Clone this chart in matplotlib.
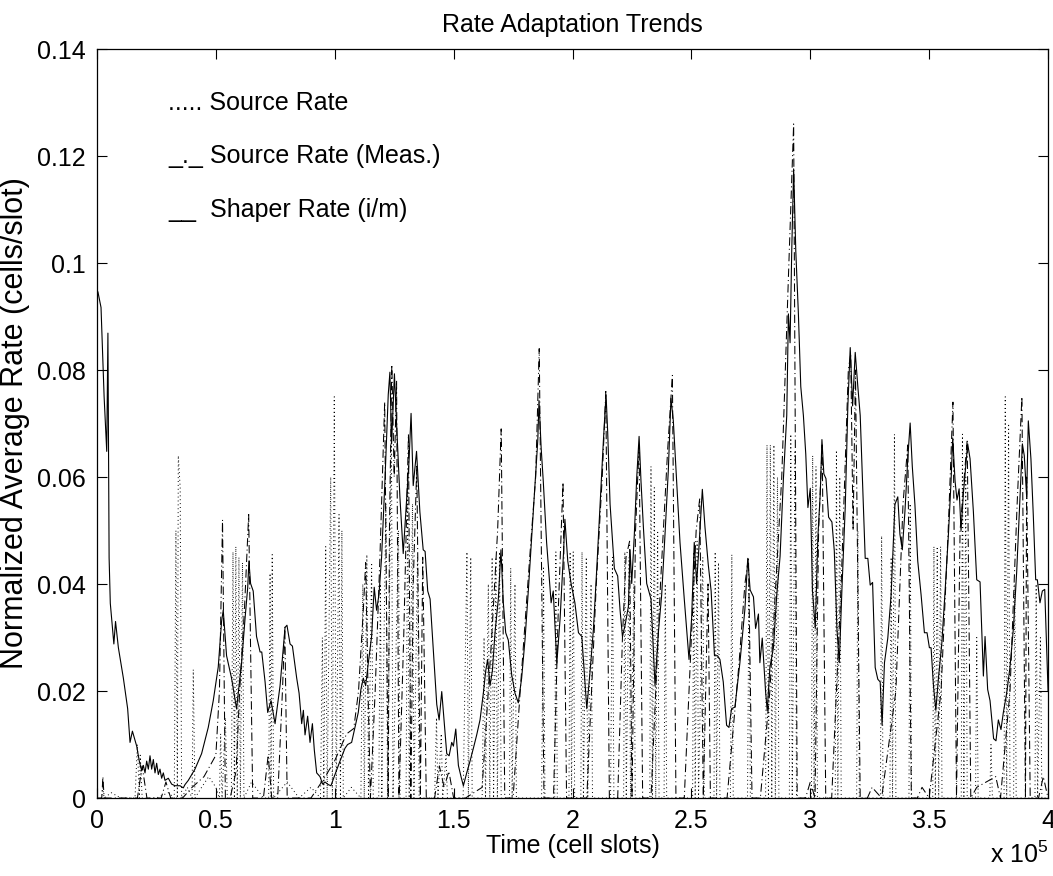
import matplotlib
matplotlib.use("Agg")
import matplotlib.pyplot as plt

plt.rcParams['font.family'] = ['Liberation Sans', 'DejaVu Sans']
plt.rcParams['mathtext.fontset'] = 'custom'
plt.rcParams['mathtext.rm'] = 'Liberation Sans'
plt.rcParams['mathtext.it'] = 'Liberation Sans'

# ---- data (time in units of 1e5 cell slots) ----
shaper_t = [0.004, 0.017, 0.030, 0.041, 0.046, 0.051, 0.056, 0.071, 0.078, 0.090,
            0.111, 0.129, 0.139, 0.149, 0.167, 0.178, 0.188, 0.195, 0.202, 0.209,
            0.216, 0.223, 0.230, 0.237, 0.244, 0.251, 0.258, 0.265, 0.272, 0.279,
            0.286, 0.300, 0.314, 0.328, 0.349, 0.363, 0.370, 0.384, 0.412, 0.440,
            0.468, 0.489, 0.510, 0.524, 0.531, 0.545, 0.566, 0.587, 0.608, 0.623,
            0.634, 0.639, 0.646, 0.657, 0.671, 0.686, 0.693, 0.707, 0.718, 0.732,
            0.749, 0.770, 0.791, 0.799, 0.812, 0.822, 0.840, 0.850, 0.861, 0.868,
            0.875, 0.886, 0.896, 0.906, 0.914, 0.924, 0.938, 0.949, 0.959, 0.973,
            0.984, 1.001, 1.022, 1.043, 1.054, 1.071, 1.085, 1.099, 1.110, 1.120,
            1.130, 1.141, 1.155, 1.166, 1.176, 1.186, 1.197, 1.211, 1.225, 1.232,
            1.239, 1.251, 1.261, 1.274, 1.288, 1.303, 1.312, 1.321, 1.330, 1.344,
            1.358, 1.372, 1.380, 1.391, 1.401, 1.415, 1.429, 1.439, 1.450, 1.461,
            1.471, 1.481, 1.492, 1.499, 1.509, 1.520, 1.531, 1.541, 1.555, 1.569,
            1.583, 1.597, 1.611, 1.625, 1.635, 1.643, 1.653, 1.663, 1.674, 1.688,
            1.699, 1.709, 1.719, 1.730, 1.744, 1.758, 1.772, 1.786, 1.800, 1.814,
            1.828, 1.842, 1.854, 1.859, 1.868, 1.877, 1.891, 1.910, 1.919, 1.934,
            1.948, 1.962, 1.968, 1.980, 1.994, 2.010, 2.025, 2.039, 2.060, 2.074,
            2.088, 2.102, 2.116, 2.130, 2.141, 2.148, 2.158, 2.176, 2.190, 2.200,
            2.210, 2.221, 2.235, 2.242, 2.249, 2.260, 2.270, 2.280, 2.288, 2.298,
            2.312, 2.330, 2.347, 2.361, 2.375, 2.389, 2.403, 2.414, 2.424, 2.438,
            2.452, 2.470, 2.490, 2.501, 2.512, 2.522, 2.532, 2.546, 2.557, 2.571,
            2.583, 2.597, 2.610, 2.620, 2.634, 2.648, 2.658, 2.669, 2.683, 2.704,
            2.725, 2.737, 2.747, 2.761, 2.770, 2.782, 2.788, 2.798, 2.812, 2.819,
            2.830, 2.845, 2.859, 2.873, 2.887, 2.901, 2.908, 2.915, 2.922, 2.930,
            2.939, 2.950, 2.960, 2.971, 2.981, 2.990, 3.000, 3.009, 3.021, 3.032,
            3.042, 3.049, 3.057, 3.066, 3.077, 3.091, 3.101, 3.112, 3.122, 3.133,
            3.147, 3.158, 3.168, 3.178, 3.189, 3.200, 3.210, 3.220, 3.231, 3.242,
            3.252, 3.262, 3.273, 3.284, 3.294, 3.302, 3.312, 3.326, 3.340, 3.356,
            3.368, 3.377, 3.387, 3.398, 3.410, 3.420, 3.429, 3.440, 3.452, 3.466,
            3.480, 3.491, 3.501, 3.508, 3.518, 3.528, 3.539, 3.553, 3.567, 3.581,
            3.592, 3.599, 3.609, 3.617, 3.626, 3.634, 3.644, 3.654, 3.662, 3.672,
            3.686, 3.700, 3.714, 3.728, 3.735, 3.746, 3.756, 3.771, 3.781, 3.791,
            3.802, 3.812, 3.826, 3.840, 3.854, 3.868, 3.882, 3.892, 3.900, 3.910,
            3.917, 3.928, 3.938, 3.948, 3.955, 3.966, 3.976, 3.986, 3.994, 4.000]
shaper_v = [0.0946, 0.0917, 0.0750, 0.0648, 0.0869, 0.0449, 0.0364, 0.0288, 0.0330, 0.0281,
            0.0224, 0.0167, 0.0104, 0.0125, 0.0097, 0.0069, 0.0051, 0.0061, 0.0047, 0.0069,
            0.0054, 0.0079, 0.0054, 0.0072, 0.0047, 0.0065, 0.0044, 0.0054, 0.0037, 0.0047,
            0.0033, 0.0037, 0.0026, 0.0023, 0.0023, 0.0019, 0.0025, 0.0033, 0.0054, 0.0083,
            0.0132, 0.0182, 0.0245, 0.0330, 0.0351, 0.0266, 0.0224, 0.0167, 0.0252, 0.0337,
            0.0394, 0.0443, 0.0401, 0.0387, 0.0302, 0.0273, 0.0273, 0.0217, 0.0160, 0.0182,
            0.0139, 0.0210, 0.0319, 0.0323, 0.0288, 0.0284, 0.0224, 0.0196, 0.0139, 0.0164,
            0.0118, 0.0153, 0.0104, 0.0139, 0.0090, 0.0047, 0.0040, 0.0026, 0.0030, 0.0025,
            0.0023, 0.0044, 0.0069, 0.0093, 0.0100, 0.0104, 0.0132, 0.0160, 0.0203, 0.0224,
            0.0210, 0.0252, 0.0302, 0.0394, 0.0351, 0.0380, 0.0450, 0.0592, 0.0754, 0.0796,
            0.0662, 0.0793, 0.0690, 0.0563, 0.0457, 0.0563, 0.0627, 0.0719, 0.0584, 0.0648,
            0.0535, 0.0464, 0.0461, 0.0387, 0.0372, 0.0273, 0.0175, 0.0146, 0.0199, 0.0139,
            0.0083, 0.0079, 0.0104, 0.0097, 0.0129, 0.0061, 0.0040, 0.0023, 0.0047, 0.0069,
            0.0093, 0.0118, 0.0146, 0.0196, 0.0238, 0.0259, 0.0210, 0.0238, 0.0309, 0.0372,
            0.0464, 0.0365, 0.0309, 0.0295, 0.0231, 0.0196, 0.0178, 0.0224, 0.0295, 0.0387,
            0.0486, 0.0584, 0.0669, 0.0743, 0.0655, 0.0592, 0.0478, 0.0365, 0.0387, 0.0252,
            0.0337, 0.0457, 0.0521, 0.0443, 0.0401, 0.0365, 0.0309, 0.0302, 0.0167, 0.0238,
            0.0316, 0.0429, 0.0549, 0.0669, 0.0754, 0.0683, 0.0549, 0.0429, 0.0415, 0.0351,
            0.0302, 0.0323, 0.0358, 0.0464, 0.0401, 0.0493, 0.0599, 0.0676, 0.0592, 0.0507,
            0.0401, 0.0372, 0.0210, 0.0309, 0.0380, 0.0493, 0.0613, 0.0747, 0.0705, 0.0592,
            0.0478, 0.0372, 0.0259, 0.0337, 0.0478, 0.0401, 0.0471, 0.0577, 0.0507, 0.0436,
            0.0387, 0.0266, 0.0266, 0.0259, 0.0217, 0.0136, 0.0132, 0.0167, 0.0170, 0.0253,
            0.0353, 0.0448, 0.0389, 0.0376, 0.0317, 0.0344, 0.0253, 0.0299, 0.0199, 0.0163,
            0.0244, 0.0281, 0.0380, 0.0452, 0.0597, 0.0715, 0.0905, 0.0851, 0.1023, 0.1176,
            0.1023, 0.0905, 0.0769, 0.0715, 0.0643, 0.0543, 0.0579, 0.0389, 0.0317, 0.0489,
            0.0570, 0.0670, 0.0606, 0.0597, 0.0525, 0.0516, 0.0462, 0.0317, 0.0253, 0.0389,
            0.0543, 0.0733, 0.0842, 0.0733, 0.0833, 0.0769, 0.0715, 0.0588, 0.0448, 0.0448,
            0.0398, 0.0403, 0.0244, 0.0222, 0.0217, 0.0136, 0.0253, 0.0299, 0.0380, 0.0549,
            0.0563, 0.0493, 0.0464, 0.0535, 0.0634, 0.0701, 0.0620, 0.0549, 0.0443, 0.0380,
            0.0309, 0.0309, 0.0281, 0.0281, 0.0210, 0.0164, 0.0224, 0.0288, 0.0387, 0.0493,
            0.0592, 0.0673, 0.0592, 0.0557, 0.0578, 0.0500, 0.0570, 0.0620, 0.0662, 0.0634,
            0.0535, 0.0408, 0.0404, 0.0228, 0.0302, 0.0203, 0.0182, 0.0111, 0.0107, 0.0146,
            0.0128, 0.0160, 0.0196, 0.0245, 0.0316, 0.0422, 0.0563, 0.0662, 0.0640, 0.0563,
            0.0705, 0.0634, 0.0528, 0.0408, 0.0408, 0.0365, 0.0387, 0.0390, 0.0280, 0.0200]

meas_t = [0.000, 0.020, 0.025, 0.030, 0.170, 0.190, 0.210, 0.270, 0.290, 0.310,
          0.360, 0.400, 0.450, 0.500, 0.515, 0.528, 0.540, 0.560, 0.585, 0.600,
          0.620, 0.638, 0.655, 0.700, 0.720, 0.735, 0.760, 0.780, 0.790, 0.800,
          0.900, 0.930, 0.960, 1.000, 1.050, 1.080, 1.100, 1.120, 1.130, 1.140,
          1.150, 1.170, 1.190, 1.210, 1.225, 1.230, 1.240, 1.250, 1.260, 1.270,
          1.290, 1.310, 1.320, 1.330, 1.345, 1.360, 1.370, 1.385, 1.420, 1.440,
          1.460, 1.480, 1.500, 1.550, 1.620, 1.660, 1.685, 1.700, 1.715, 1.750,
          1.780, 1.820, 1.845, 1.860, 1.880, 1.920, 1.940, 1.960, 1.975, 2.030,
          2.060, 2.100, 2.125, 2.140, 2.155, 2.190, 2.210, 2.225, 2.240, 2.250,
          2.265, 2.280, 2.295, 2.330, 2.370, 2.400, 2.420, 2.435, 2.470, 2.500,
          2.520, 2.535, 2.550, 2.570, 2.580, 2.650, 2.700, 2.725, 2.740, 2.755,
          2.790, 2.830, 2.880, 2.910, 2.930, 2.945, 2.980, 3.000, 3.020, 3.035,
          3.050, 3.065, 3.090, 3.130, 3.160, 3.170, 3.180, 3.190, 3.210, 3.240,
          3.260, 3.300, 3.360, 3.390, 3.410, 3.425, 3.450, 3.470, 3.500, 3.550,
          3.580, 3.600, 3.615, 3.630, 3.660, 3.675, 3.700, 3.740, 3.780, 3.800,
          3.840, 3.870, 3.890, 3.905, 3.910, 3.925, 3.960, 3.980, 4.000]
meas_v = [0.000, 0.000, 0.004, 0.000, 0.000, 0.006, 0.000, 0.000, 0.003, 0.000,
          0.000, 0.002, 0.004, 0.008, 0.020, 0.052, 0.000, 0.000, 0.005, 0.020,
          0.035, 0.053, 0.000, 0.000, 0.008, 0.000, 0.000, 0.020, 0.032, 0.000,
          0.000, 0.002, 0.004, 0.007, 0.012, 0.013, 0.020, 0.035, 0.044, 0.020,
          0.000, 0.020, 0.045, 0.074, 0.000, 0.050, 0.081, 0.060, 0.078, 0.000,
          0.030, 0.068, 0.000, 0.040, 0.062, 0.000, 0.045, 0.000, 0.000, 0.006,
          0.002, 0.005, 0.000, 0.000, 0.002, 0.030, 0.050, 0.069, 0.000, 0.000,
          0.020, 0.045, 0.060, 0.084, 0.000, 0.000, 0.035, 0.059, 0.000, 0.000,
          0.000, 0.040, 0.060, 0.076, 0.000, 0.000, 0.030, 0.045, 0.048, 0.000,
          0.050, 0.066, 0.000, 0.000, 0.040, 0.065, 0.079, 0.000, 0.000, 0.030,
          0.050, 0.056, 0.000, 0.040, 0.000, 0.000, 0.025, 0.040, 0.045, 0.000,
          0.000, 0.020, 0.060, 0.100, 0.126, 0.000, 0.000, 0.003, 0.000, 0.050,
          0.066, 0.000, 0.000, 0.040, 0.080, 0.083, 0.050, 0.080, 0.000, 0.000,
          0.002, 0.000, 0.020, 0.055, 0.066, 0.000, 0.000, 0.002, 0.000, 0.020,
          0.050, 0.074, 0.000, 0.050, 0.067, 0.000, 0.002, 0.003, 0.004, 0.000,
          0.020, 0.055, 0.075, 0.000, 0.060, 0.000, 0.000, 0.004, 0.000]

src_t = [0.000, 0.020, 0.024, 0.030, 0.060, 0.100, 0.160, 0.170, 0.178, 0.182,
         0.190, 0.250, 0.300, 0.325, 0.332, 0.338, 0.342, 0.350, 0.356, 0.380,
         0.400, 0.405, 0.412, 0.440, 0.470, 0.500, 0.515, 0.520, 0.526, 0.540,
         0.548, 0.565, 0.572, 0.578, 0.584, 0.590, 0.597, 0.603, 0.612, 0.618,
         0.650, 0.700, 0.722, 0.728, 0.732, 0.737, 0.743, 0.800, 0.850, 0.900,
         0.940, 0.948, 0.954, 0.962, 0.968, 0.983, 0.990, 0.998, 1.006, 1.018,
         1.024, 1.030, 1.036, 1.070, 1.110, 1.118, 1.124, 1.135, 1.142, 1.155,
         1.162, 1.185, 1.192, 1.198, 1.215, 1.222, 1.238, 1.245, 1.268, 1.275,
         1.300, 1.307, 1.313, 1.327, 1.333, 1.348, 1.355, 1.420, 1.428, 1.434,
         1.448, 1.454, 1.468, 1.474, 1.540, 1.556, 1.562, 1.572, 1.578, 1.620,
         1.628, 1.634, 1.646, 1.652, 1.662, 1.668, 1.678, 1.684, 1.693, 1.700,
         1.735, 1.740, 1.746, 1.758, 1.764, 1.870, 1.878, 1.884, 1.925, 1.930,
         1.936, 1.985, 1.990, 1.996, 2.003, 2.009, 2.035, 2.040, 2.046, 2.058,
         2.064, 2.078, 2.084, 2.160, 2.168, 2.174, 2.215, 2.220, 2.226, 2.238,
         2.244, 2.258, 2.264, 2.325, 2.330, 2.336, 2.344, 2.350, 2.358, 2.364,
         2.385, 2.390, 2.396, 2.505, 2.510, 2.516, 2.524, 2.530, 2.548, 2.554,
         2.595, 2.600, 2.606, 2.614, 2.620, 2.664, 2.670, 2.676, 2.736, 2.742,
         2.748, 2.812, 2.818, 2.824, 2.832, 2.838, 2.847, 2.853, 2.862, 2.868,
         2.912, 2.918, 2.924, 2.936, 2.942, 3.005, 3.010, 3.016, 3.024, 3.030,
         3.105, 3.110, 3.116, 3.124, 3.130, 3.195, 3.200, 3.206, 3.295, 3.300,
         3.306, 3.335, 3.340, 3.346, 3.354, 3.360, 3.415, 3.420, 3.426, 3.515,
         3.520, 3.526, 3.534, 3.540, 3.548, 3.554, 3.635, 3.640, 3.646, 3.654,
         3.660, 3.695, 3.700, 3.706, 3.755, 3.760, 3.766, 3.815, 3.820, 3.826,
         3.834, 3.840, 3.855, 3.860, 3.866, 3.945, 3.950, 3.956, 3.968, 3.974,
         4.000]
src_v = [0.000, 0.000, 0.002, 0.000, 0.001, 0.000, 0.000, 0.010, 0.000, 0.008,
         0.000, 0.000, 0.001, 0.000, 0.050, 0.000, 0.064, 0.058, 0.000, 0.002,
         0.000, 0.024, 0.000, 0.002, 0.004, 0.002, 0.000, 0.012, 0.000, 0.015,
         0.000, 0.000, 0.046, 0.000, 0.047, 0.000, 0.045, 0.000, 0.044, 0.000,
         0.003, 0.000, 0.000, 0.042, 0.000, 0.0455, 0.000, 0.003, 0.000, 0.002,
         0.000, 0.030, 0.000, 0.047, 0.000, 0.060, 0.000, 0.075, 0.000, 0.053,
         0.000, 0.050, 0.000, 0.002, 0.000, 0.040, 0.000, 0.0455, 0.000, 0.044,
         0.000, 0.000, 0.040, 0.000, 0.055, 0.000, 0.070, 0.000, 0.050, 0.000,
         0.000, 0.060, 0.000, 0.055, 0.000, 0.045, 0.000, 0.000, 0.015, 0.000,
         0.012, 0.000, 0.008, 0.000, 0.000, 0.046, 0.000, 0.045, 0.000, 0.000,
         0.030, 0.000, 0.040, 0.000, 0.045, 0.000, 0.045, 0.000, 0.046, 0.000,
         0.000, 0.043, 0.000, 0.040, 0.000, 0.000, 0.043, 0.000, 0.000, 0.046,
         0.000, 0.000, 0.046, 0.000, 0.046, 0.000, 0.000, 0.046, 0.000, 0.045,
         0.000, 0.040, 0.000, 0.000, 0.045, 0.000, 0.000, 0.046, 0.000, 0.045,
         0.000, 0.040, 0.000, 0.000, 0.062, 0.000, 0.058, 0.000, 0.050, 0.000,
         0.000, 0.040, 0.000, 0.000, 0.046, 0.000, 0.048, 0.000, 0.045, 0.000,
         0.000, 0.046, 0.000, 0.044, 0.000, 0.000, 0.0455, 0.000, 0.000, 0.040,
         0.000, 0.000, 0.066, 0.000, 0.066, 0.000, 0.066, 0.000, 0.060, 0.000,
         0.000, 0.068, 0.000, 0.065, 0.000, 0.000, 0.064, 0.000, 0.062, 0.000,
         0.000, 0.065, 0.000, 0.060, 0.000, 0.000, 0.050, 0.000, 0.000, 0.049,
         0.000, 0.000, 0.045, 0.000, 0.068, 0.000, 0.000, 0.055, 0.000, 0.000,
         0.047, 0.000, 0.047, 0.000, 0.047, 0.000, 0.000, 0.068, 0.000, 0.060,
         0.000, 0.000, 0.030, 0.000, 0.000, 0.010, 0.000, 0.000, 0.075, 0.000,
         0.070, 0.000, 0.000, 0.040, 0.000, 0.000, 0.040, 0.000, 0.030, 0.000,
         0.000]

x_ticks = [0, 0.5, 1, 1.5, 2, 2.5, 3, 3.5, 4]
x_tick_labels = ['0', '0.5', '1', '1.5', '2', '2.5', '3', '3.5', '4']
y_ticks = [0, 0.02, 0.04, 0.06, 0.08, 0.1, 0.12, 0.14]
y_tick_labels = ['0', '0.02', '0.04', '0.06', '0.08', '0.1', '0.12', '0.14']
legend_texts = ['..... Source Rate', '_._ Source Rate (Meas.)', '__  Shaper Rate (i/m)']
legend_y = [0.13, 0.12, 0.11]
legend_x = 0.30

FS = 18

fig = plt.figure(figsize=(10.53, 8.76), dpi=100)
ax = fig.add_axes([0.0921, 0.089, 0.9032, 0.855])

ax.plot(src_t, src_v, color='black', linewidth=0.7, linestyle=(0, (1, 3)))
ax.plot(meas_t, meas_v, color='black', linewidth=0.75, linestyle=(0, (8, 3, 1, 3)))
ax.plot(shaper_t, shaper_v, color='black', linewidth=0.8, linestyle='-')

ax.set_xlim(0, 4)
ax.set_ylim(0, 0.14)
ax.set_xticks(x_ticks)
ax.set_xticklabels(x_tick_labels)
ax.set_yticks(y_ticks)
ax.set_yticklabels(y_tick_labels)
ax.tick_params(direction='in', length=7, width=0.8, top=True, right=True,
               labelsize=FS, pad=8)
for s in ax.spines.values():
    s.set_linewidth(0.9)

for txt, yy in zip(legend_texts, legend_y):
    ax.text(legend_x, yy, txt, fontsize=FS, va='center', ha='left')

ax.set_title('Rate Adaptation Trends', fontsize=FS, pad=12)
ax.set_xlabel('Time (cell slots)', fontsize=FS, labelpad=0.5)
ax.set_ylabel('Normalized Average Rate (cells/slot)', fontsize=22, labelpad=5)
ax.text(1.0, -0.058, r'x 10$^{5}$', transform=ax.transAxes, fontsize=FS,
        ha='right', va='top')

fig.savefig('out.png', dpi=100)
